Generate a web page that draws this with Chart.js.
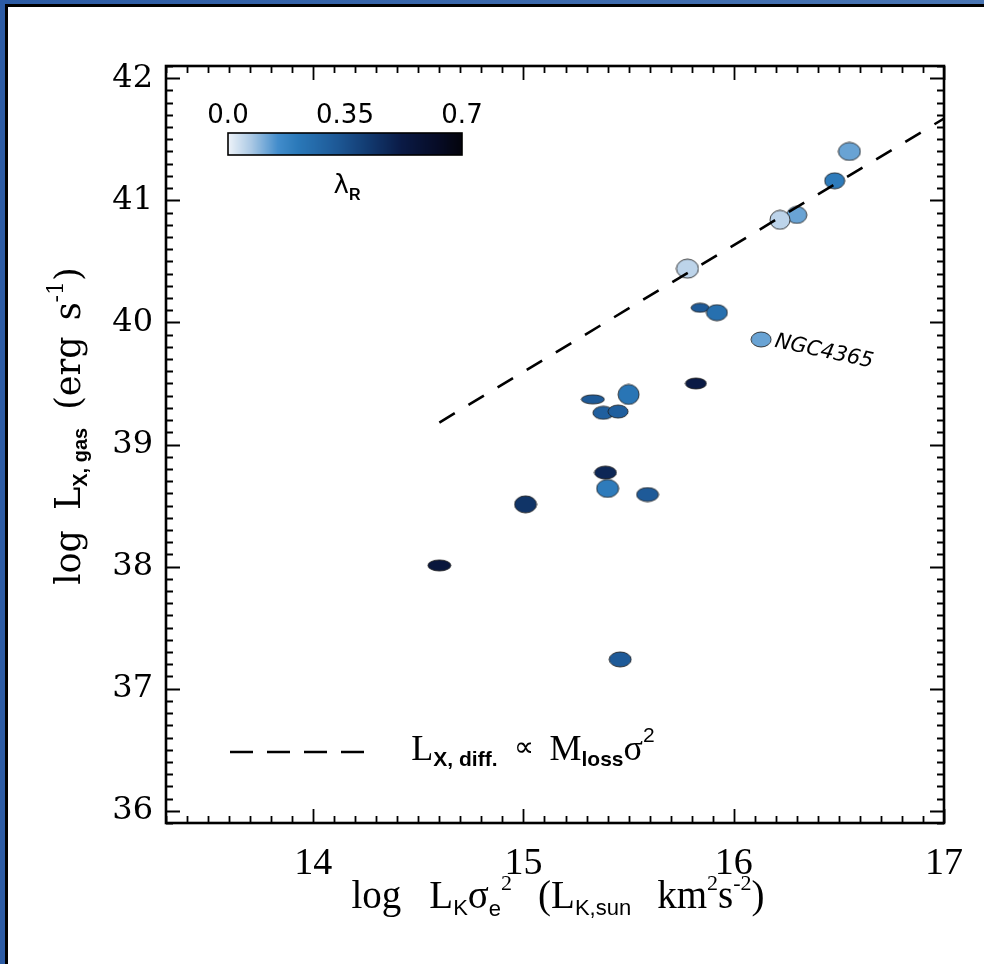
<!DOCTYPE html>
<html>
<head>
<meta charset="utf-8">
<script src="https://cdn.jsdelivr.net/npm/chart.js@4.4.1/dist/chart.umd.min.js"></script>
<style>
    html, body { margin: 0; padding: 0; }
    body { width: 984px; height: 964px; overflow: hidden; position: relative; background: linear-gradient(90deg, #2c5ba4, #4a76b4); }
    #painel { position: absolute; left: 5px; top: 4px; width: 1000px; height: 1000px; background: #fff; border-top: 3px solid #000; border-left: 3px solid #000; }
    #area { position: absolute; left: 0; top: 0; width: 984px; height: 964px; }
</style>
</head>
<body>
<div id="painel"></div>
<div id="area"><canvas id="grafico"></canvas></div>
<script>
// ======================== DADOS ========================
const logLKsigma = [16.55, 16.48, 16.30, 16.22, 15.78, 15.84, 15.92, 16.13, 15.82, 15.50, 15.33, 15.38, 15.45, 15.39, 15.40, 15.59, 15.01, 14.60, 15.46];
const logLXgas = [41.40, 41.16, 40.88, 40.84, 40.44, 40.12, 40.08, 39.86, 39.50, 39.41, 39.37, 39.26, 39.27, 38.77, 38.64, 38.59, 38.51, 38.01, 37.24];
const lambdaR = [0.12, 0.20, 0.12, 0.05, 0.05, 0.32, 0.24, 0.12, 0.52, 0.22, 0.32, 0.30, 0.30, 0.48, 0.20, 0.32, 0.44, 0.55, 0.32];
const nomesGalaxias = ['', '', '', '', '', '', '', 'NGC4365', '', '', '', '', '', '', '', '', '', '', ''];

const linhaX = [14.60, 17.0];
const linhaY = [39.18, 41.67];

const ticksX = [14, 15, 16, 17];
const ticksY = [36, 37, 38, 39, 40, 41, 42];
const ticksCor = ['0.0', '0.35', '0.7'];

// ======================== ESTILO ========================
// tamanho (px) de cada elipse
const larguraPonto = [22, 20, 20, 20, 22, 18, 21, 20, 21, 21, 23, 21, 20, 22, 22, 22, 22, 23, 22];
const alturaPonto = [18, 16, 17, 19, 19, 9, 16, 15, 11, 20, 9, 13, 13, 13, 18, 14, 17, 11, 15];

const paradasCor = [
    [0.00, [238, 243, 249]],
    [0.07, [170, 200, 228]],
    [0.15, [66, 140, 203]],
    [0.21, [42, 120, 184]],
    [0.32, [30, 90, 152]],
    [0.42, [18, 58, 112]],
    [0.52, [10, 26, 69]],
    [0.63, [6, 11, 37]],
    [0.70, [4, 4, 12]],
];

function corLambda(v) {
    for (let i = 1; i < paradasCor.length; i++) {
        const [v0, c0] = paradasCor[i - 1];
        const [v1, c1] = paradasCor[i];
        if (v <= v1 || i === paradasCor.length - 1) {
            const t = Math.max(0, Math.min(1, (v - v0) / (v1 - v0)));
            const c = c0.map((a, k) => Math.round(a + (c1[k] - a) * t));
            return `rgb(${c[0]},${c[1]},${c[2]})`;
        }
    }
}

function criaMarcador(w, h, cor) {
    const c = document.createElement('canvas');
    c.width = w + 2;
    c.height = h + 2;
    const g = c.getContext('2d');
    g.beginPath();
    g.ellipse(c.width / 2, c.height / 2, w / 2, h / 2, 0, 0, Math.PI * 2);
    g.fillStyle = cor;
    g.fill();
    g.lineWidth = 1;
    g.strokeStyle = 'rgba(30,30,30,0.85)';
    g.stroke();
    return c;
}

// texto com índices e expoentes
function textoRico(ctx, partes, x, y) {
    let total = 0;
    partes.forEach((p) => {
        ctx.font = p.f;
        total += ctx.measureText(p.t).width + (p.gap || 0);
    });
    let cx = x - total / 2;
    ctx.textAlign = 'left';
    ctx.textBaseline = 'alphabetic';
    partes.forEach((p) => {
        ctx.font = p.f;
        cx += p.gap || 0;
        ctx.fillText(p.t, cx, y + (p.dy || 0));
        cx += ctx.measureText(p.t).width;
    });
}

const SERIF = 'Liberation Serif';
const SERIF_LARGA = 'DejaVu Serif';
const SANS = 'Liberation Sans';
const SANS_LARGA = 'DejaVu Sans';

// ======================== PLUGINS ========================
const molduraPlugin = {
    id: 'moldura',
    afterDraw(chart) {
        const { ctx, chartArea: a, scales: { x, y } } = chart;
        ctx.save();
        ctx.strokeStyle = '#000';
        ctx.lineWidth = 1.8;
        ctx.beginPath();
        for (let i = Math.ceil(x.min * 10 - 1e-6); i <= Math.floor(x.max * 10 + 1e-6); i++) {
            const px = Math.round(x.getPixelForValue(i / 10)) + 0.5;
            const len = i % 10 === 0 ? 14 : 7;
            ctx.moveTo(px, a.bottom); ctx.lineTo(px, a.bottom - len);
            ctx.moveTo(px, a.top); ctx.lineTo(px, a.top + len);
        }
        for (let i = Math.ceil(y.min * 10 - 1e-6); i <= Math.floor(y.max * 10 + 1e-6); i++) {
            const py = Math.round(y.getPixelForValue(i / 10)) + 0.5;
            const len = i % 10 === 0 ? 14 : 7;
            ctx.moveTo(a.left, py); ctx.lineTo(a.left + len, py);
            ctx.moveTo(a.right, py); ctx.lineTo(a.right - len, py);
        }
        ctx.stroke();
        ctx.lineWidth = 2.6;
        ctx.strokeRect(a.left, a.top, a.right - a.left, a.bottom - a.top);

        // rótulo NGC4365
        const meta = chart.getDatasetMeta(1);
        nomesGalaxias.forEach((nome, i) => {
            if (!nome) return;
            const el = meta.data[i];
            ctx.save();
            ctx.translate(el.x + 14, el.y + 2);
            ctx.rotate(12 * Math.PI / 180);
            ctx.font = `italic 21px ${SANS_LARGA}`;
            ctx.fillStyle = '#000';
            ctx.textAlign = 'left';
            ctx.textBaseline = 'middle';
            ctx.fillText(nome, 0, 0);
            ctx.restore();
        });

        // barra de cores
        const bx0 = 228, bx1 = 462, by0 = 133, by1 = 155;
        const vmax = parseFloat(ticksCor[ticksCor.length - 1]);
        for (let px = bx0; px < bx1; px++) {
            ctx.fillStyle = corLambda(((px - bx0 + 0.5) / (bx1 - bx0)) * vmax);
            ctx.fillRect(px, by0, 1, by1 - by0);
        }
        ctx.lineWidth = 1.6;
        ctx.strokeStyle = '#000';
        ctx.strokeRect(bx0, by0, bx1 - bx0, by1 - by0);
        ctx.fillStyle = '#000';
        ctx.font = `26px ${SANS_LARGA}`;
        ctx.textAlign = 'center';
        ctx.textBaseline = 'alphabetic';
        ticksCor.forEach((t) => {
            const lx = bx0 + (parseFloat(t) / vmax) * (bx1 - bx0);
            ctx.fillText(t, lx, 123);
        });
        textoRico(ctx, [
            { t: 'λ', f: `26px ${SANS_LARGA}` },
            { t: 'R', f: `bold 16px ${SANS}`, dy: 7 },
        ], 347, 193);

        // legenda da linha tracejada
        ctx.lineWidth = 2.5;
        ctx.setLineDash([23, 14]);
        ctx.beginPath();
        ctx.moveTo(230, 752);
        ctx.lineTo(364, 752);
        ctx.stroke();
        ctx.setLineDash([]);
        const partesLeg = [
            { t: 'L', f: `36px ${SERIF}` },
            { t: 'X, diff.', f: `bold 21px ${SANS}`, dy: 6 },
            { t: '∝', f: `28px ${SERIF}`, gap: 16, dy: -4 },
            { t: 'M', f: `36px ${SERIF}`, gap: 16 },
            { t: 'loss', f: `bold 21px ${SANS}`, dy: 6 },
            { t: 'σ', f: `36px ${SERIF}` },
            { t: '2', f: `21px ${SANS}`, dy: -18 },
        ];
        textoRico(ctx, partesLeg, 533, 760);

        // título do eixo x
        textoRico(ctx, [
            { t: 'log', f: `39px ${SERIF}` },
            { t: 'L', f: `39px ${SERIF}`, gap: 28 },
            { t: 'K', f: `22px ${SANS}`, dy: 7 },
            { t: 'σ', f: `39px ${SERIF}` },
            { t: 'e', f: `22px ${SANS}`, dy: 8 },
            { t: '2', f: `22px ${SERIF}`, dy: -18 },
            { t: '(L', f: `39px ${SERIF}`, gap: 26 },
            { t: 'K,sun', f: `22px ${SANS}`, dy: 7 },
            { t: 'km', f: `39px ${SERIF}`, gap: 26 },
            { t: '2', f: `22px ${SERIF}`, dy: -18 },
            { t: 's', f: `39px ${SERIF}` },
            { t: '-2', f: `22px ${SERIF}`, dy: -18 },
            { t: ')', f: `39px ${SERIF}` },
        ], 558, 908);

        // título do eixo y
        ctx.save();
        ctx.translate(80, 426);
        ctx.rotate(-Math.PI / 2);
        textoRico(ctx, [
            { t: 'log', f: `35px ${SERIF_LARGA}` },
            { t: 'L', f: `35px ${SERIF_LARGA}`, gap: 20 },
            { t: 'X, gas', f: `bold 20px ${SANS}`, dy: 7 },
            { t: '(erg', f: `35px ${SERIF_LARGA}`, gap: 18 },
            { t: 's', f: `35px ${SERIF_LARGA}`, gap: 16 },
            { t: '-1', f: `22px ${SERIF_LARGA}`, dy: -17 },
            { t: ')', f: `35px ${SERIF_LARGA}` },
        ], 0, 0);
        ctx.restore();
        ctx.restore();
    },
};

// ======================== GRÁFICO ========================
const pontos = logLKsigma.map((v, i) => ({ x: v, y: logLXgas[i] }));
const marcadores = lambdaR.map((l, i) => criaMarcador(larguraPonto[i], alturaPonto[i], corLambda(l)));

new Chart(document.getElementById('grafico'), {
    type: 'scatter',
    data: {
        datasets: [
            {
                data: linhaX.map((v, i) => ({ x: v, y: linhaY[i] })),
                showLine: true,
                borderColor: '#000',
                borderWidth: 2.6,
                borderDash: [18, 16],
                pointRadius: 0,
                order: 0,
            },
            {
                data: pontos,
                pointStyle: marcadores,
                pointRadius: 10,
                order: 1,
            },
        ],
    },
    options: {
        responsive: true,
        maintainAspectRatio: false,
        animation: false,
        events: [],
        layout: {
            padding: { top: 66, right: 40, left: 0, bottom: 0 },
        },
        plugins: {
            legend: { display: false },
            tooltip: { enabled: false },
        },
        scales: {
            x: {
                type: 'linear',
                min: 13.3,
                max: 17,
                afterBuildTicks: (ax) => { ax.ticks = ticksX.map((v) => ({ value: v })); },
                afterFit: (s) => { s.height = 141; },
                grid: { display: false, drawTicks: false },
                border: { display: false },
                ticks: {
                    color: '#000',
                    padding: 18,
                    maxRotation: 0,
                    autoSkip: false,
                    font: { family: SERIF, size: 38 },
                },
            },
            y: {
                type: 'linear',
                min: 35.9,
                max: 42.1,
                afterBuildTicks: (ax) => { ax.ticks = ticksY.map((v) => ({ value: v })); },
                afterFit: (s) => { s.width = 166; },
                grid: { display: false, drawTicks: false },
                border: { display: false },
                ticks: {
                    color: '#000',
                    padding: 13,
                    autoSkip: false,
                    font: { family: SERIF_LARGA, size: 32 },
                },
            },
        },
    },
    plugins: [molduraPlugin],
});
</script>
</body>
</html>
